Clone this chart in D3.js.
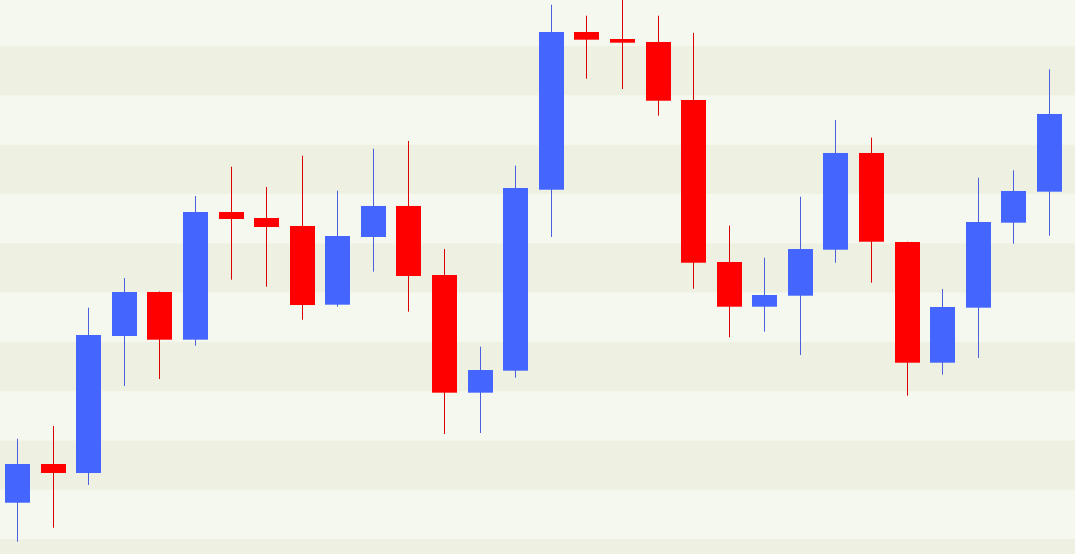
<!DOCTYPE html>
<html>
<head>
<meta charset="utf-8">
<script src="https://cdn.jsdelivr.net/npm/d3@7"></script>
<style>
html,body{margin:0;padding:0;background:#f5f8ee;overflow:hidden;}
svg{display:block;}
</style>
</head>
<body>
<svg id="chart" width="1075" height="554"></svg>
<script>
// Candle data (open, high, low, close)
const opens  = [107.36,115.21,113.39,141.18,150.10,140.43,166.33,165.11,163.49,147.53,161.26,167.55,153.55,129.68,134.14,170.85,202.84,201.42,200.81,189.05,156.19,147.12,149.35,158.68,178.30,160.24,135.76,146.92,164.16,170.45];
const highs  = [120.34,122.92,146.92,152.94,150.20,169.57,175.52,171.40,177.75,170.65,179.17,180.73,158.82,139.01,175.72,208.38,206.15,209.50,206.15,202.64,163.55,157.06,169.43,184.99,181.40,160.30,150.71,173.29,174.79,195.27];
const lows   = [99.45,102.29,110.95,131.03,132.45,139.21,152.60,151.18,144.48,147.12,154.22,146.11,121.30,121.50,132.72,161.26,193.37,191.28,185.86,150.77,140.91,142.05,137.32,156.04,151.99,129.07,133.33,136.71,159.90,161.52];
const closes = [115.21,113.39,141.38,150.10,140.43,166.33,164.91,163.29,147.46,161.46,167.55,153.35,129.68,134.28,171.20,202.84,201.28,200.67,188.90,156.04,147.12,149.49,158.82,178.30,160.30,135.76,147.06,164.30,170.59,186.21];
const bandEdges = [90,100,110,120,130,140,150,160,170,180,190,200,210];

const W = 1075, H = 554;
const svg = d3.select("#chart");
const x = d3.scaleLinear().domain([0, opens.length - 1]).range([17, 1049]);
const y = d3.scaleLinear().domain([100, 200]).range([539, 46]);
const bodyW = 25;

const data = opens.map((o, i) => ({i, o, h: highs[i], l: lows[i], c: closes[i]}));

// background stripes
const bands = bandEdges.slice(0, -1).map((v, k) => ({lo: v, hi: bandEdges[k + 1]}));
svg.append("g").selectAll("rect").data(bands).join("rect")
  .attr("x", 0).attr("width", W)
  .attr("y", d => y(d.hi)).attr("height", d => y(d.lo) - y(d.hi))
  .attr("fill", d => (Math.round(d.lo / 10) % 2 === 1) ? "#eef1e2" : "#f5f8ee");

const g = svg.append("g");
// wicks
g.selectAll("line").data(data).join("line")
  .attr("x1", d => Math.round(x(d.i)) + 0.5).attr("x2", d => Math.round(x(d.i)) + 0.5)
  .attr("y1", d => y(d.h)).attr("y2", d => y(d.l))
  .attr("stroke", d => d.c >= d.o ? "#4a60e0" : "#dd0000")
  .attr("stroke-width", 1);
// bodies
g.selectAll("rect").data(data).join("rect")
  .attr("x", d => Math.round(x(d.i)) + 0.5 - bodyW / 2)
  .attr("width", bodyW)
  .attr("y", d => y(Math.max(d.o, d.c)))
  .attr("height", d => Math.max(1, Math.abs(y(d.o) - y(d.c))))
  .attr("fill", d => d.c >= d.o ? "#4466ff" : "#ff0000");
</script>
</body>
</html>
